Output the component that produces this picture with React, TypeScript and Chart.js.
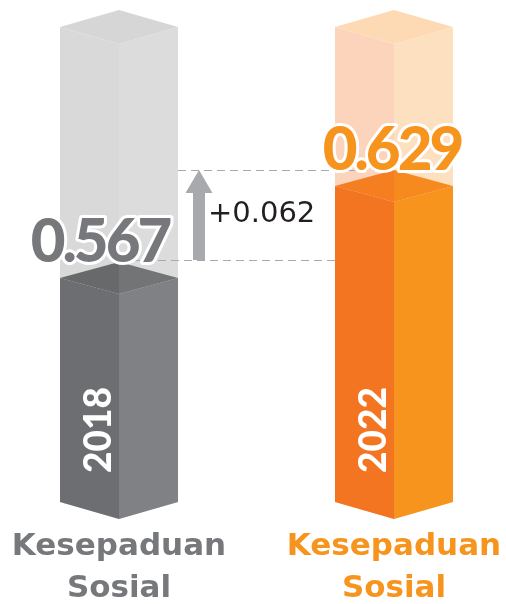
import React, { useEffect, useRef } from "react";
import { Chart, registerables } from "chart.js";

Chart.register(...registerables);

// ---- data ----
const CATEGORIES = [
  ["Kesepaduan", "Sosial"],
  ["Kesepaduan", "Sosial"],
];
const YEARS = ["2018", "2022"];
const VALUES = [0.567, 0.629];
const FULL_SCALE = [0.737, 0.737];
const Y_MIN = 0.405;
const Y_MAX = 0.737;

// ---- styles ----
const LIGHT_FACES = [
  { top: "#d6d6d6", left: "#d9d9d9", right: "#dcdcdc" },
  { top: "#fdd9b4", left: "#fcd4bc", right: "#fde0c0" },
];
const SOLID_FACES = [
  { topL: "#68696b", topR: "#737476", left: "#6d6e71", right: "#808184" },
  { topL: "#f47e20", topR: "#f68a1f", left: "#f37421", right: "#f7941d" },
];
const TEXT_COLORS = ["#77787b", "#f7941d"];
const LABEL_DX = [-19, -2];
const GUIDE = "#a7a9ac";

type Pt = [number, number];

const pillarPlugin = {
  id: "pillars",
  afterDatasetsDraw(chart: any) {
    const ctx: CanvasRenderingContext2D = chart.ctx;
    const bg = chart.getDatasetMeta(0).data;
    const fg = chart.getDatasetMeta(1).data;
    const D = 17;
    const DS = 16;
    const poly = (pts: Pt[], color: string) => {
      ctx.beginPath();
      ctx.moveTo(pts[0][0], pts[0][1]);
      for (let k = 1; k < pts.length; k++) ctx.lineTo(pts[k][0], pts[k][1]);
      ctx.closePath();
      ctx.fillStyle = color;
      ctx.fill();
    };
    ctx.save();

    // light full-height pillars
    bg.forEach((el: any, i: number) => {
      const { x, y, base, width } = el.getProps(["x", "y", "base", "width"], true);
      const hw = width / 2;
      const f = LIGHT_FACES[i];
      poly([[x - hw, y + D], [x, y + 2 * D], [x, base + D], [x - hw, base]], f.left);
      poly([[x, y + 2 * D], [x + hw, y + D], [x + hw, base], [x, base + D]], f.right);
      poly([[x, y], [x + hw, y + D], [x, y + 2 * D], [x - hw, y + D]], f.top);
    });

    const g = fg[0].getProps(["x", "y", "base", "width"], true);
    const o = fg[1].getProps(["x", "y", "base", "width"], true);
    const hw = g.width / 2;

    // dashed guides
    ctx.strokeStyle = GUIDE;
    ctx.lineWidth = 1;
    ctx.setLineDash([8, 5]);
    ctx.beginPath();
    ctx.moveTo(g.x + hw, Math.round(o.y) + 0.5);
    ctx.lineTo(o.x, Math.round(o.y) + 0.5);
    ctx.moveTo(g.x, Math.round(g.y) - 1.5);
    ctx.lineTo(o.x, Math.round(g.y) - 1.5);
    ctx.stroke();
    ctx.setLineDash([]);

    // arrow
    const ax = g.x + hw + 21;
    const tipY = o.y;
    const botY = g.y - 2;
    poly(
      [
        [ax - 6, botY],
        [ax - 6, tipY + 23],
        [ax - 13.5, tipY + 23],
        [ax, tipY],
        [ax + 13.5, tipY + 23],
        [ax + 6, tipY + 23],
        [ax + 6, botY],
      ],
      GUIDE
    );

    // solid value pillars
    fg.forEach((el: any, i: number) => {
      const { x, y, base, width } = el.getProps(["x", "y", "base", "width"], true);
      const h = width / 2;
      const f = SOLID_FACES[i];
      poly([[x - h, y + DS], [x, y + 2 * DS], [x, base + D], [x - h, base]], f.left);
      poly([[x, y + 2 * DS], [x + h, y + DS], [x + h, base], [x, base + D]], f.right);
      poly([[x, y], [x, y + 2 * DS], [x - h, y + DS]], f.topL);
      poly([[x, y], [x + h, y + DS], [x, y + 2 * DS]], f.topR);

      // year label
      ctx.save();
      ctx.translate(x - 20, base - 72);
      ctx.rotate(-Math.PI / 2);
      ctx.font = "900 37px Lato";
      ctx.fillStyle = "#ffffff";
      ctx.textAlign = "center";
      ctx.textBaseline = "middle";
      ctx.fillText(YEARS[i], 0, 0);
      ctx.restore();
    });

    // value labels
    fg.forEach((el: any, i: number) => {
      const { x, y } = el.getProps(["x", "y"], true);
      ctx.save();
      ctx.font = "900 60px Lato";
      (ctx as any).letterSpacing = "-3px";
      ctx.textAlign = "center";
      ctx.textBaseline = "alphabetic";
      ctx.lineJoin = "round";
      ctx.lineWidth = 6;
      ctx.strokeStyle = "#ffffff";
      const txt = VALUES[i].toFixed(3);
      ctx.strokeText(txt, x + LABEL_DX[i], y);
      ctx.fillStyle = TEXT_COLORS[i];
      ctx.fillText(txt, x + LABEL_DX[i], y);
      ctx.restore();
    });

    // difference label
    const diff = "+" + (VALUES[1] - VALUES[0]).toFixed(3);
    ctx.font = "29px 'DejaVu Sans'";
    ctx.fillStyle = "#231f20";
    ctx.textAlign = "left";
    ctx.textBaseline = "middle";
    ctx.fillText(diff, g.x + hw + 30, (g.y + o.y) / 2 - 2);

    ctx.restore();
  },
};

export default function App() {
  const ref = useRef<HTMLCanvasElement | null>(null);
  useEffect(() => {
    if (!ref.current) return;
    const chart = new Chart(ref.current, {
      type: "bar",
      data: {
        labels: CATEGORIES as any,
        datasets: [
          { data: FULL_SCALE, base: Y_MIN, backgroundColor: "rgba(0,0,0,0)", barThickness: 118, grouped: false } as any,
          { data: VALUES, base: Y_MIN, backgroundColor: "rgba(0,0,0,0)", barThickness: 118, grouped: false } as any,
        ],
      },
      options: {
        responsive: false,
        animation: false,
        events: [],
        layout: { padding: { left: 119, right: 112, top: 10, bottom: 0 } },
        plugins: { legend: { display: false }, tooltip: { enabled: false } },
        scales: {
          x: {
            offset: false,
            grid: { display: false, drawTicks: false },
            border: { display: false },
            ticks: {
              padding: 24,
              autoSkip: false,
              maxRotation: 0,
              color: (c: any) => TEXT_COLORS[c.index],
              font: { family: "'DejaVu Sans'", weight: "bold", size: 31, lineHeight: 1.35 },
            },
            afterFit: (s: any) => {
              s.height = 102;
              s.paddingLeft = 0;
              s.paddingRight = 0;
            },
          },
          y: { display: false, min: Y_MIN, max: Y_MAX },
        },
      } as any,
      plugins: [pillarPlugin],
    });
    return () => chart.destroy();
  }, []);
  return (
    <div style={{ position: "absolute", left: 0, top: 0, width: 506, height: 604, background: "#ffffff" }}>
      <canvas ref={ref} width={506} height={604} style={{ display: "block" }} />
    </div>
  );
}
